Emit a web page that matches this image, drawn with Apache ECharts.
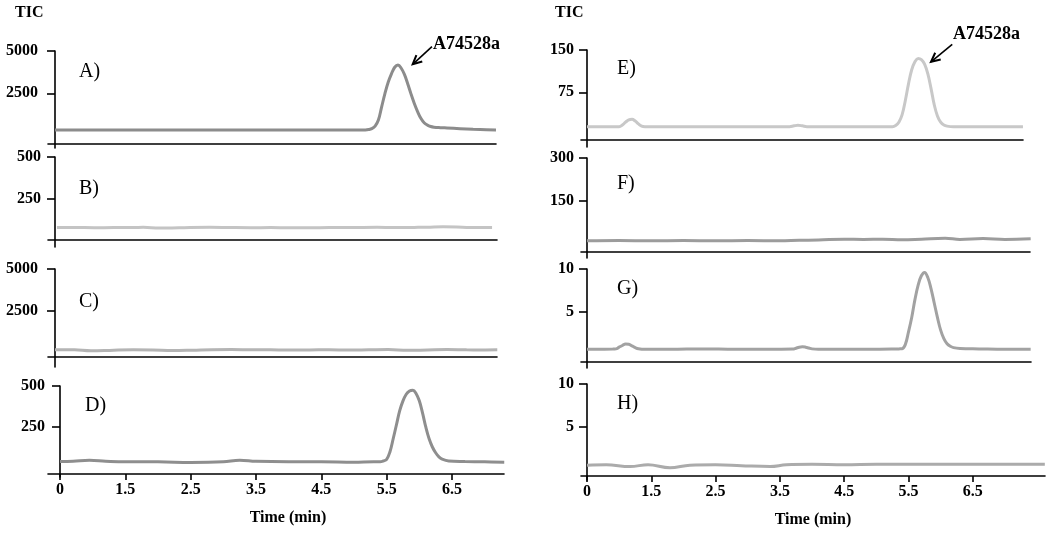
<!DOCTYPE html>
<html><head><meta charset="utf-8">
<script src="https://cdn.jsdelivr.net/npm/echarts@6/dist/echarts.min.js"></script>
<style>html,body{margin:0;padding:0;background:#fff}#c{width:1050px;height:534px}</style>
</head><body><div id="c"></div>
<script>
// ---------------- DATA ----------------
const timeA = [0.5,1.0,1.5,2.0,2.5,3.0,3.5,4.0,4.5,5.0,5.15,5.25,5.30,5.35,5.40,5.45,5.50,5.55,5.60,5.65,5.70,5.75,5.80,5.85,5.90,5.95,6.00,6.05,6.10,6.15,6.20,6.25,6.30,6.40,6.50,6.70,6.90,7.10,7.25];
const ticA  = [330,330,330,330,330,330,330,330,330,330,330,335,355,410,560,920,1700,2480,3150,3650,4040,4170,3980,3600,3050,2450,1900,1420,1020,760,620,540,500,470,450,410,370,340,330];

const timeB = [0.53,0.8,1.1,1.4,1.7,1.85,2.1,2.4,2.87,3.2,3.5,3.8,4.1,4.4,4.7,5.0,5.43,5.7,6.0,6.2,6.44,6.8,7.0,7.19];
const ticB  = [75,76,74,75,75,77,72,74,77,75,74,75,74,74,75,75,77,75,76,77,80,76,75,75];

const timeC = [0.5,0.8,1.05,1.4,1.7,2.0,2.3,2.6,2.9,3.2,3.5,3.8,4.1,4.4,4.7,5.0,5.3,5.6,5.9,6.2,6.5,6.8,7.0,7.27];
const ticC  = [200,190,130,170,190,180,150,170,200,210,195,190,180,185,200,175,190,205,160,185,210,190,185,190];

const timeD = [0.5,0.7,0.95,1.2,1.5,2.0,2.5,3.0,3.25,3.5,4.0,4.5,5.0,5.3,5.40,5.45,5.50,5.55,5.60,5.65,5.70,5.75,5.80,5.85,5.90,5.95,6.00,6.05,6.10,6.15,6.20,6.25,6.30,6.35,6.45,6.7,7.0,7.3];
const ticD  = [42,44,50,44,40,40,36,40,50,43,40,40,37,40,40,45,55,100,180,265,350,410,450,470,474,455,410,335,250,180,130,95,70,56,45,42,40,38];

const timeE = [0.5,0.8,1.0,1.05,1.10,1.15,1.20,1.25,1.30,1.35,1.40,1.7,2.2,2.7,3.2,3.65,3.72,3.78,3.85,3.92,4.4,4.9,5.2,5.25,5.30,5.35,5.40,5.45,5.50,5.55,5.60,5.65,5.70,5.75,5.80,5.85,5.90,5.95,6.00,6.05,6.10,6.20,6.5,7.0,7.28];
const ticE  = [14,14,14,17,22,26,27,24,19,15,14,14,14,14,14,14,15.5,16.5,15.5,14,14,14,14,14,16,22,35,60,90,115,129,135,133,125,108,82,53,33,22,17,15,14,14,14,14];

const timeF = [0.5,1.0,1.5,2.0,2.5,3.0,3.5,3.8,4.1,4.5,4.8,5.1,5.4,5.7,6.07,6.3,6.66,7.0,7.4];
const ticF  = [10,11,10,11,10,11,10,12,13,16,15,16,14,16,19,15,18,15,17];

const timeG = [0.5,0.9,0.95,1.00,1.05,1.10,1.15,1.20,1.25,1.30,1.40,1.8,2.3,2.8,3.3,3.7,3.75,3.80,3.85,3.90,3.95,4.00,4.10,4.5,4.9,5.3,5.35,5.40,5.45,5.50,5.55,5.60,5.65,5.70,5.75,5.80,5.85,5.90,5.95,6.00,6.05,6.10,6.15,6.20,6.30,6.6,7.0,7.4];
const ticG  = [0.55,0.58,0.6,0.8,1.0,1.18,1.15,0.95,0.75,0.62,0.55,0.55,0.6,0.55,0.55,0.58,0.68,0.8,0.85,0.8,0.7,0.6,0.55,0.55,0.55,0.58,0.6,0.62,1.1,2.6,4.3,6.4,8.1,9.2,9.6,9.0,7.7,6.0,4.3,2.8,1.8,1.2,0.9,0.75,0.65,0.6,0.55,0.55];

const timeH = [0.5,0.8,1.17,1.45,1.79,2.1,2.5,2.9,3.35,3.6,4.0,4.5,5.0,5.5,6.0,6.5,7.0,7.62];
const ticH  = [0.5,0.55,0.35,0.55,0.2,0.5,0.55,0.45,0.35,0.55,0.6,0.55,0.6,0.6,0.6,0.6,0.6,0.6];

const xTickValues = [0.5,1.5,2.5,3.5,4.5,5.5,6.5];
const xTickLabels = ['0','1.5','2.5','3.5','4.5','5.5','6.5'];
const yTicksA = [2500,5000], yTicksB = [250,500], yTicksC = [2500,5000], yTicksD = [250,500];
const yTicksE = [75,150], yTicksF = [150,300], yTicksG = [5,10], yTicksH = [5,10];
const panelNames = ['A)','B)','C)','D)','E)','F)','G)','H)'];
const yAxisTitle = 'TIC';
const xAxisTitle = 'Time (min)';
const peakName = 'A74528a';
// arrow: [tail, head] in data coordinates (time, TIC)
const arrowLeft  = [[6.27,5254],[5.975,4214]];
const arrowRight = [[6.18,160],[5.85,129]];

// ---------------- LAYOUT ----------------
const serif = 'Liberation Serif';
const panels = [
  {t:timeA,v:ticA,ticks:yTicksA,name:panelNames[0],color:'#8c8c8c',gl:48,yx:55,gr:496,top:51,axisY:144,bot:148,yMin:-733,ppm:65.33,lm:17,lab:[79,62]},
  {t:timeB,v:ticB,ticks:yTicksB,name:panelNames[1],color:'#c4c4c4',gl:48,yx:55,gr:497,top:157,axisY:240,bot:247,yMin:-42,ppm:65.33,lm:14,lab:[79,179]},
  {t:timeC,v:ticC,ticks:yTicksC,name:panelNames[2],color:'#b4b4b4',gl:48,yx:55,gr:497,top:269,axisY:357,bot:367,yMin:-830,ppm:65.33,lm:17,lab:[79,292]},
  {t:timeD,v:ticD,ticks:yTicksD,name:panelNames[3],color:'#8e8e8e',gl:48,yx:60,gr:504,top:386,axisY:474,bot:477,yMin:-52,ppm:65.33,lm:15,lab:[85,396],bottom:true,nameShift:24},
  {t:timeE,v:ticE,ticks:yTicksE,name:panelNames[4],color:'#c8c8c8',gl:581,yx:587,gr:1023,top:50,axisY:140,bot:147,yMin:-22,ppm:64.3,lm:13,lab:[617,59]},
  {t:timeF,v:ticF,ticks:yTicksF,name:panelNames[5],color:'#9c9c9c',gl:581,yx:587,gr:1030,top:158,axisY:252,bot:258,yMin:-50,ppm:64.3,lm:13,lab:[617,174]},
  {t:timeG,v:ticG,ticks:yTicksG,name:panelNames[6],color:'#a2a2a2',gl:581,yx:587,gr:1031,top:269,axisY:362,bot:368,yMin:-1.65,ppm:64.3,lm:13,lab:[617,279]},
  {t:timeH,v:ticH,ticks:yTicksH,name:panelNames[7],color:'#ababab',gl:581,yx:587,gr:1045,top:384,axisY:476,bot:480,yMin:-1.23,ppm:64.3,lm:13,lab:[617,394],bottom:true,nameShift:0}
];

const grids = [], xAxes = [], yAxes = [], series = [], titles = [];
const axisLineStyle = {color:'#000', width:1.6};
const labelStyle = {fontFamily:serif, fontWeight:'bold', fontSize:16, color:'#000'};

panels.forEach((p, i) => {
  grids.push({left:p.gl, top:p.top, width:p.gr - p.gl, height:p.bot - p.top, containLabel:false});
  const xMin = 0.5 - (p.yx - p.gl) / p.ppm;
  const xMax = 0.5 + (p.gr - p.yx) / p.ppm;
  xAxes.push({
    type:'value', gridIndex:i, min:xMin, max:xMax, position:'bottom',
    offset: p.axisY - p.bot,
    axisLine:{show:true, onZero:false, lineStyle:axisLineStyle},
    splitLine:{show:false},
    axisTick:{show:!!p.bottom, length:6, lineStyle:axisLineStyle, customValues:xTickValues},
    axisLabel:Object.assign({show:!!p.bottom, margin:8, customValues:xTickValues,
      formatter:(v)=>{ let k=0,d=1e9; xTickValues.forEach((tv,j)=>{const dd=Math.abs(tv-v); if(dd<d){d=dd;k=j;}}); return xTickLabels[k]; }}, labelStyle),
    name: p.bottom ? xAxisTitle : '', nameLocation:'middle', nameGap:36,
    nameTextStyle:Object.assign({padding:[0,0,0,p.nameShift||0]}, labelStyle)
  });
  yAxes.push({
    type:'value', gridIndex:i, min:p.yMin, max:p.ticks[1], position:'left',
    offset: p.gl - p.yx,
    axisLine:{show:true, onZero:false, lineStyle:axisLineStyle},
    splitLine:{show:false},
    axisTick:{show:true, length:8, lineStyle:axisLineStyle, customValues:p.ticks},
    axisLabel:Object.assign({show:true, margin:p.lm, customValues:p.ticks, formatter:(v)=>String(v)}, labelStyle)
  });
  series.push({
    type:'line', xAxisIndex:i, yAxisIndex:i, showSymbol:false, symbol:'none',
    smooth:0.4, animation:false,
    lineStyle:{color:p.color, width:3},
    data:p.t.map((t,j)=>[t, p.v[j]])
  });
  titles.push({text:p.name, left:p.lab[0], top:p.lab[1], padding:0,
    textStyle:{fontFamily:serif, fontWeight:'normal', fontSize:20, color:'#000'}});
});
titles.push({text:yAxisTitle, left:15, top:5, padding:0, textStyle:{fontFamily:serif, fontWeight:'bold', fontSize:16, color:'#000'}});
titles.push({text:yAxisTitle, left:555, top:5, padding:0, textStyle:{fontFamily:serif, fontWeight:'bold', fontSize:16, color:'#000'}});
titles.push({text:peakName, left:433, top:35, padding:0, textStyle:{fontFamily:serif, fontWeight:'bold', fontSize:18, color:'#000'}});
titles.push({text:peakName, left:953, top:25, padding:0, textStyle:{fontFamily:serif, fontWeight:'bold', fontSize:18, color:'#000'}});

const chart = echarts.init(document.getElementById('c'), null, {renderer:'canvas'});
chart.setOption({
  backgroundColor:'#fff', animation:false,
  title:titles, grid:grids, xAxis:xAxes, yAxis:yAxes, series:series
});

function arrowGraphic(gridIndex, arr) {
  const a = chart.convertToPixel({gridIndex:gridIndex}, arr[0]);
  const b = chart.convertToPixel({gridIndex:gridIndex}, arr[1]);
  const ang = Math.atan2(a[1]-b[1], a[0]-b[0]);
  const L = 10, sp = 0.45;
  const p1 = [b[0] + L*Math.cos(ang+sp), b[1] + L*Math.sin(ang+sp)];
  const p2 = [b[0] + L*Math.cos(ang-sp), b[1] + L*Math.sin(ang-sp)];
  return [
    {type:'line', shape:{x1:a[0],y1:a[1],x2:b[0],y2:b[1]}, style:{stroke:'#000', lineWidth:1.6}},
    {type:'polyline', shape:{points:[p1,b,p2]}, style:{stroke:'#000', lineWidth:2, fill:null}}
  ];
}
chart.setOption({graphic:[].concat(arrowGraphic(0, arrowLeft), arrowGraphic(4, arrowRight))});
</script></body></html>
